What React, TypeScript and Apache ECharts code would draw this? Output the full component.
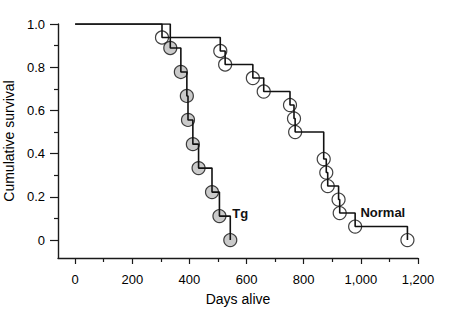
import React, { useEffect, useRef } from "react";
import * as echarts from "echarts";

const tgDays = [333, 370, 391, 395, 412, 432, 479, 505, 543];
const tgSurvival = [0.889, 0.778, 0.667, 0.556, 0.444, 0.333, 0.222, 0.111, 0];
const normalDays = [304, 508, 525, 622, 660, 752, 766, 770, 870, 879, 884, 922, 926, 980, 1163];
const normalSurvival = [0.9375, 0.875, 0.8125, 0.75, 0.6875, 0.625, 0.5625, 0.5, 0.375, 0.3125, 0.25, 0.1875, 0.125, 0.0625, 0];
const xTicks = [0, 200, 400, 600, 800, 1000, 1200];
const xMinorTicks = [100, 300, 500, 700, 900, 1100];
const yTicks = [0, 0.2, 0.4, 0.6, 0.8, 1.0];
const yMinorTicks = [0.1, 0.3, 0.5, 0.7, 0.9];
const xRange = [-60, 1200];
const yRange = [-0.083, 1];
const startDay = 0;
const startSurvival = 1;

const FONT = "'Liberation Sans', Arial, sans-serif";

export default function App() {
  const ref = useRef<HTMLDivElement>(null);
  useEffect(() => {
    if (!ref.current) return;
    const chart = echarts.init(ref.current, null, { renderer: "svg" });
    const pts = (d: number[], s: number[]) => d.map((x, i) => [x, s[i]]);
    const tgPts = pts(tgDays, tgSurvival);
    const nPts = pts(normalDays, normalSurvival);
    const axisColor = "#1a1a1a";
    chart.setOption({
      animation: false,
      backgroundColor: "#fff",
      grid: { left: 58, right: 54, top: 24, bottom: 68, containLabel: false, outerBoundsMode: "none" },
      xAxis: [
        {
          type: "value",
          position: "bottom",
          min: xRange[0],
          max: xRange[1],
          axisLine: { show: true, onZero: false, lineStyle: { color: axisColor, width: 1.4 } },
          axisTick: { show: true, length: 6, customValues: xTicks, lineStyle: { color: axisColor, width: 1.2 } },
          splitLine: { show: false },
          axisLabel: {
            customValues: xTicks,
            margin: 15,
            fontFamily: FONT,
            fontSize: 13,
            color: "#000",
            formatter: (v: number) => v.toLocaleString("en-US"),
          },
          name: "Days alive",
          nameLocation: "middle",
          nameGap: 34,
          nameTextStyle: { fontFamily: FONT, fontSize: 14, color: "#000" },
        },
        {
          type: "value",
          position: "bottom",
          offset: 0,
          min: xRange[0],
          max: xRange[1],
          axisLine: { show: false, onZero: false },
          axisTick: { show: true, length: 4, customValues: xMinorTicks, lineStyle: { color: axisColor, width: 1.2 } },
          axisLabel: { show: false },
          splitLine: { show: false },
        },
      ],
      yAxis: [
        {
          type: "value",
          position: "left",
          min: yRange[0],
          max: yRange[1],
          axisLine: { show: true, onZero: false, lineStyle: { color: axisColor, width: 1.4 } },
          axisTick: { show: true, length: 8, customValues: yTicks, lineStyle: { color: axisColor, width: 1.2 } },
          splitLine: { show: false },
          axisLabel: {
            customValues: yTicks,
            margin: 13,
            fontFamily: FONT,
            fontSize: 13,
            color: "#000",
            formatter: (v: number) => (v === 0 ? "0" : v.toFixed(1)),
          },
          name: "Cumulative survival",
          nameLocation: "middle",
          nameGap: 37,
          nameTextStyle: { fontFamily: FONT, fontSize: 14, color: "#000" },
        },
        {
          type: "value",
          position: "left",
          offset: 0,
          min: yRange[0],
          max: yRange[1],
          axisLine: { show: false, onZero: false },
          axisTick: { show: true, length: 4, customValues: yMinorTicks, lineStyle: { color: axisColor, width: 1.2 } },
          axisLabel: { show: false },
          splitLine: { show: false },
        },
      ],
      series: [
        {
          type: "scatter",
          data: nPts,
          symbol: "circle",
          symbolSize: 13,
          z: 2,
          itemStyle: { color: "rgba(255,255,255,0)", borderColor: "#111", borderWidth: 1.2 },
        },
        {
          type: "scatter",
          data: tgPts,
          symbol: "circle",
          symbolSize: 13,
          z: 2,
          itemStyle: { color: "#bdbdbd", borderColor: "#111", borderWidth: 1.2 },
        },
        {
          type: "line",
          step: "end",
          data: [[startDay, startSurvival], ...nPts],
          showSymbol: false,
          z: 3,
          lineStyle: { color: "#111", width: 1.6 },
          endLabel: {
            show: true,
            formatter: "Normal",
            distance: 0,
            offset: [-47, -28],
            fontFamily: FONT,
            fontSize: 13,
            fontWeight: "bold",
            color: "#111",
          },
        },
        {
          type: "line",
          step: "end",
          data: [[startDay, startSurvival], ...tgPts],
          showSymbol: false,
          z: 3,
          lineStyle: { color: "#111", width: 1.6 },
          endLabel: {
            show: true,
            formatter: "Tg",
            distance: 0,
            offset: [2, -27],
            fontFamily: FONT,
            fontSize: 13,
            fontWeight: "bold",
            color: "#111",
          },
        },
      ],
    });
    return () => chart.dispose();
  }, []);
  return (
    <div
      ref={ref}
      style={{ position: "fixed", left: 0, top: 0, width: 472, height: 326, background: "#fff" }}
    />
  );
}
